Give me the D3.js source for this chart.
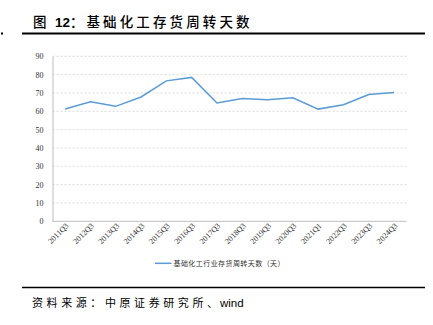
<!DOCTYPE html>
<html><head><meta charset="utf-8">
<script src="https://cdn.jsdelivr.net/npm/d3@7/dist/d3.min.js"></script>
<style>body{margin:0;background:#fff}svg{display:block}</style>
</head><body>
<script>
const categories = ["2011Q3","2012Q3","2013Q3","2014Q3","2015Q3","2016Q3","2017Q3","2018Q3","2019Q3","2020Q3","2021Q1","2022Q3","2023Q3","2024Q3"];
const values = [61.3, 65.2, 62.7, 67.8, 76.6, 78.5, 64.5, 67.0, 66.3, 67.4, 61.2, 63.6, 69.2, 70.3];
const yTicks = [0,10,20,30,40,50,60,70,80,90];
const seriesName = "基础化工行业存货周转天数（天）";
const titlePrefix = "图";
const titleNum = "12";
const titleMain = "基础化工存货周转天数";
const sourceCjk = "资料来源：中原证券研究所、";
const sourceLatin = "wind";

const W=433,H=325;
const svg=d3.select("body").append("svg").attr("width",W).attr("height",H);
const m={l:52.5,r:406.7,t:56.3,b:221.3};
const x=d3.scaleBand().domain(categories).range([m.l,m.r]);
const y=d3.scaleLinear().domain([0,90]).range([m.b,m.t]);
const cjk="'Noto Sans CJK SC',sans-serif";

// header
svg.append("rect").attr("x",1).attr("y",32.5).attr("width",2).attr("height",2).attr("fill","#000");
svg.append("line").attr("x1",22).attr("x2",425).attr("y1",33.5).attr("y2",33.5).attr("stroke","#000").attr("stroke-width",2);
svg.append("text").attr("x",33).attr("y",27).attr("font-family",cjk).attr("font-weight",500).attr("font-size",13.5).attr("fill","#000").text(titlePrefix);
svg.append("text").attr("x",55).attr("y",27).attr("font-family","'Liberation Sans',Arial,sans-serif").attr("font-weight","bold").attr("font-size",13.5).attr("fill","#000").text(titleNum);
svg.append("text").attr("x",70).attr("y",27).attr("font-family",cjk).attr("font-weight",500).attr("font-size",13.5).attr("fill","#000").text("：");
svg.append("text").attr("x",86.5).attr("y",27).attr("font-family",cjk).attr("font-weight",500).attr("font-size",13.5).attr("fill","#000")
 .attr("textLength",163).attr("lengthAdjust","spacing").text(titleMain);

// grid
svg.append("g").selectAll("line").data(yTicks.filter(d=>d>0)).join("line")
 .attr("x1",m.l).attr("x2",m.r).attr("y1",d=>y(d)).attr("y2",d=>y(d))
 .attr("stroke","#d0d0d0").attr("stroke-width",0.8).attr("stroke-dasharray","2,2");

// y axis
const ya=svg.append("g").attr("transform",`translate(${m.l},0)`).call(d3.axisLeft(y).tickValues(yTicks).tickSize(0).tickPadding(9));
ya.select(".domain").attr("stroke","#bfbfbf");
ya.selectAll("text").attr("font-family","'Liberation Serif','Times New Roman',serif").attr("font-size",8).attr("fill","#333");

// x axis
const xa=svg.append("g").attr("transform",`translate(0,${m.b})`).call(d3.axisBottom(x).tickSize(0).tickPadding(4));
xa.select(".domain").attr("stroke","#bfbfbf").attr("d",`M${m.l},0H${m.r}`);
xa.selectAll("text").attr("font-family","'Liberation Serif','Times New Roman',serif").attr("font-size",8).attr("fill","#333")
 .attr("text-anchor","end").attr("dy","0").attr("transform","translate(4,5) rotate(-45)").attr("y",0).attr("x",0);

// line
const line=d3.line().x((d,i)=>x(categories[i])+x.bandwidth()/2).y(d=>y(d));
svg.append("path").datum(values).attr("d",line).attr("fill","none").attr("stroke","#5B9BD5").attr("stroke-width",1.5);

// legend
svg.append("line").attr("x1",155).attr("x2",171.5).attr("y1",263.3).attr("y2",263.3).attr("stroke","#5B9BD5").attr("stroke-width",1.5);
svg.append("text").attr("x",173.5).attr("y",266).attr("font-family",cjk).attr("font-size",7).attr("fill","#333")
 .attr("textLength",111).attr("lengthAdjust","spacing").text(seriesName);

// footer
svg.append("line").attr("x1",22).attr("x2",425).attr("y1",287.5).attr("y2",287.5).attr("stroke","#000").attr("stroke-width",1.5);
svg.append("text").attr("x",32).attr("y",306.5).attr("font-family",cjk).attr("font-size",11).attr("fill","#000")
 .attr("textLength",186).attr("lengthAdjust","spacing").text(sourceCjk);
svg.append("text").attr("x",220).attr("y",306.5).attr("font-family","'Liberation Sans',Arial,sans-serif").attr("font-size",11.5).attr("fill","#000").text(sourceLatin);
</script>
</body></html>
